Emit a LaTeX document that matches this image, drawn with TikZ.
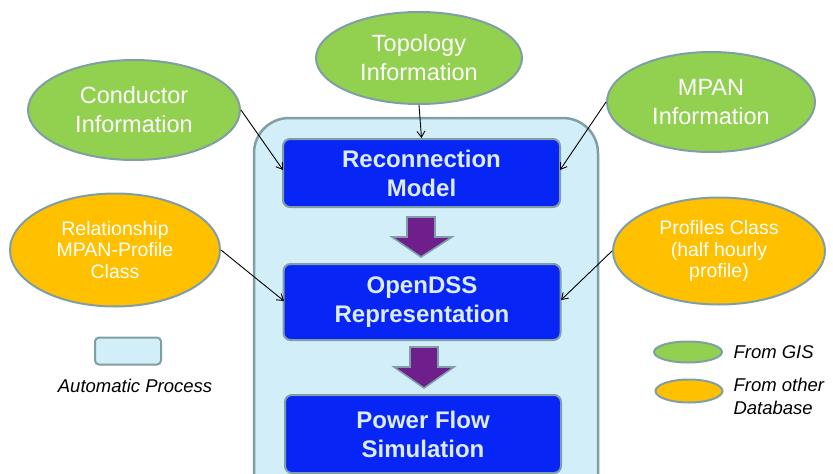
\documentclass[tikz,border=0pt]{standalone}
\usepackage{fontspec}
\setmainfont{Liberation Sans}
\usetikzlibrary{shapes.geometric,arrows.meta}
\definecolor{gisgreen}{HTML}{92D050}
\definecolor{dborange}{HTML}{FFC000}
\definecolor{edgegray}{HTML}{7F9EA6}
\definecolor{procblue}{HTML}{D2EEF8}
\definecolor{boxblue}{HTML}{0726F5}
\definecolor{boxtext}{HTML}{DCEBFF}
\definecolor{arrowpurple}{HTML}{6E1F8C}
\tikzset{
  srcgis/.style={ellipse, fill=gisgreen, draw=edgegray, line width=2pt, text=white, align=center, inner sep=0pt,
     font=\fontsize{23.5}{29}\selectfont},
  srcdb/.style={ellipse, fill=dborange, draw=edgegray, line width=2pt, text=white, align=center, inner sep=0pt,
     font=\fontsize{19.5}{21.5}\selectfont},
  stepbox/.style={rectangle, rounded corners=7pt, fill=boxblue, draw=edgegray, line width=2pt, text=boxtext,
     align=center, font=\bfseries\fontsize{24}{29}\selectfont},
  feed/.style={black, line width=0.9pt, -{Straight Barb[length=6pt,width=8pt]}},
  flowarrow/.style={fill=arrowpurple, draw=edgegray, line width=1.6pt, line join=miter},
  legtext/.style={font=\itshape\fontsize{18.5}{23}\selectfont, align=left}
}
\begin{document}
\begin{tikzpicture}[x=1pt,y=-1pt]
\useasboundingbox (0,0) rectangle (833,474);
\clip (0,0) rectangle (833,474);
% container
\draw[fill=procblue, draw=edgegray, line width=2.5pt, rounded corners=35pt] (254,118) rectangle (598,520);
% step boxes
\node[stepbox, minimum width=277pt, minimum height=68pt] (rm) at (421.5,173) {Reconnection\\Model};
\node[stepbox, minimum width=277pt, minimum height=76pt] (od) at (422,302) {OpenDSS\\Representation};
\node[stepbox, minimum width=276pt, minimum height=78pt] (pf) at (423,434) {Power Flow\\Simulation};
% purple block arrows
\draw[flowarrow] (407,217) -- (435,217) -- (435,237) -- (452,237) -- (421,257) -- (392,237) -- (407,237) -- cycle;
\draw[flowarrow] (410,347) -- (438,347) -- (438,367) -- (454,367) -- (424,388) -- (394,367) -- (410,367) -- cycle;
% sources
\node[srcgis, minimum width=212pt, minimum height=100pt] (cond) at (134,110) {Conductor\\Information};
\node[srcgis, minimum width=206pt, minimum height=92pt] (topo) at (419,58) {Topology\\Information};
\node[srcgis, minimum width=208pt, minimum height=100pt] (mpan) at (711,102) {MPAN\\Information};
\node[srcdb, minimum width=210pt, minimum height=113pt] (rel) at (115,250) {Relationship\\MPAN-Profile\\Class};
\node[srcdb, minimum width=212pt, minimum height=107pt] (prof) at (719,251) {Profiles Class\\(half hourly\\profile)};
% connectors
\coordinate (rmL) at (283,170);
\coordinate (rmR) at (560,170);
\coordinate (odL) at (284,301);
\coordinate (odR) at (561,300);
\draw[feed] (cond.east) -- (rmL);
\draw[feed] (topo.south) -- (rm.north);
\draw[feed] (mpan.west) -- (rmR);
\draw[feed] (rel.east) -- (odL);
\draw[feed] (prof.west) -- (odR);
% legend
\node[rectangle, rounded corners=4pt, fill=procblue, draw=edgegray, line width=2pt, minimum width=66pt, minimum height=27pt] (legproc) at (128,351) {};
\node[legtext] (legproct) at (135,386) {Automatic Process};
\node[ellipse, fill=gisgreen, draw=edgegray, line width=2pt, minimum width=68pt, minimum height=21pt, inner sep=0pt] (leggis) at (688,352) {};
\node[legtext, anchor=west] (leggist) at (730,352) {From GIS};
\node[ellipse, fill=dborange, draw=edgegray, line width=2pt, minimum width=67pt, minimum height=23pt, inner sep=0pt] (legdb) at (689,391) {};
\node[legtext, anchor=west] (legdbt) at (730,396) {From other\\Database};
\end{tikzpicture}
\end{document}
